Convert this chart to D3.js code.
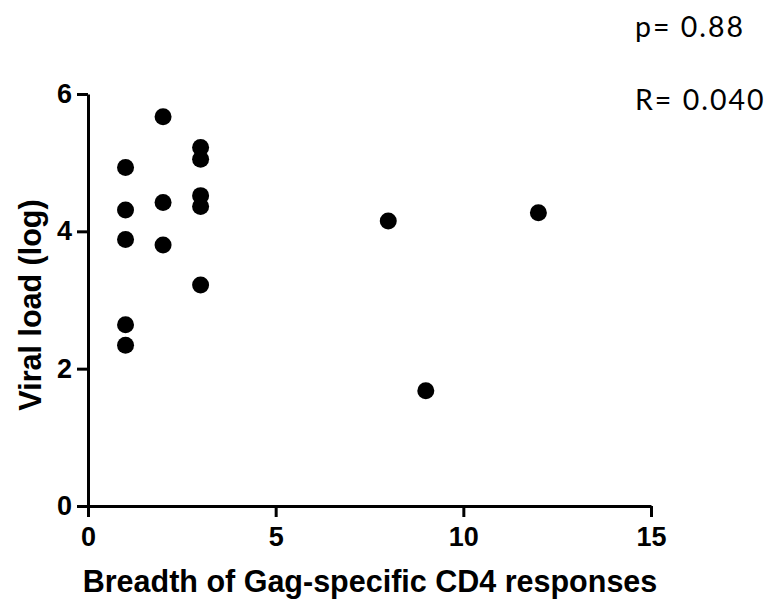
<!DOCTYPE html>
<html>
<head>
<meta charset="utf-8">
<script src="https://cdn.jsdelivr.net/npm/d3@7"></script>
<style>
body { margin: 0; background: #fff; }
svg { display: block; }
.tick text { font-family: "Liberation Sans", Arial, sans-serif; font-weight: bold; font-size: 27px; fill: #000; }
</style>
</head>
<body>
<svg width="768" height="608"></svg>
<script>
// breadth of responses (x) vs log viral load (y)
var breadth   = [1, 1, 1, 1, 1, 2, 2, 2, 3, 3, 3, 3, 3, 8, 9, 12];
var viralLoad = [4.93, 4.31, 3.88, 2.64, 2.34, 5.67, 4.42, 3.80, 5.22, 5.05, 4.52, 4.36, 3.22, 4.15, 1.68, 4.27];
var xTicks = [0, 5, 10, 15];
var yTicks = [0, 2, 4, 6];
var stats = ["p= 0.88", "R= 0.040"];

var svg = d3.select("svg");

var x = d3.scaleLinear().domain([0, 15]).range([88, 651]);
var y = d3.scaleLinear().domain([0, 6]).range([506, 94]);

/* axes */
svg.append("g")
    .attr("transform", "translate(0,506)")
    .call(d3.axisBottom(x).tickValues(xTicks).tickFormat(d3.format("d"))
        .tickSize(11).tickPadding(10).tickSizeOuter(0));

svg.append("g")
    .attr("transform", "translate(88,0)")
    .call(d3.axisLeft(y).tickValues(yTicks).tickFormat(d3.format("d"))
        .tickSize(11).tickPadding(5).tickSizeOuter(0));

svg.selectAll(".domain, .tick line")
    .attr("stroke", "#000")
    .attr("stroke-width", 3);

/* points */
svg.append("g")
    .selectAll("circle")
    .data(breadth)
    .enter()
    .append("circle")
    .attr("cx", function(d){ return x(d); })
    .attr("cy", function(d, i){ return y(viralLoad[i]); })
    .attr("r", 8.5)
    .attr("fill", "#000");

/* axis titles */
svg.append("text")
    .attr("x", 370)
    .attr("y", 592)
    .attr("text-anchor", "middle")
    .attr("font-family", "Liberation Sans, Arial, sans-serif")
    .attr("font-weight", "bold")
    .attr("font-size", 30.5)
    .text("Breadth of Gag-specific CD4 responses");

svg.append("text")
    .attr("transform", "translate(41,305) rotate(-90)")
    .attr("text-anchor", "middle")
    .attr("font-family", "Liberation Sans, Arial, sans-serif")
    .attr("font-weight", "bold")
    .attr("font-size", 30.5)
    .text("Viral load (log)");

/* stats text */
svg.selectAll(".stat")
    .data(stats)
    .enter()
    .append("text")
    .attr("class", "stat")
    .attr("x", 635)
    .attr("y", function(d, i){ return 37 + i * 73; })
    .attr("font-family", "Lato, sans-serif")
    .attr("font-size", 28.5)
    .attr("letter-spacing", 2)
    .attr("fill", "#000")
    .text(function(d){ return d; });
</script>
</body>
</html>
